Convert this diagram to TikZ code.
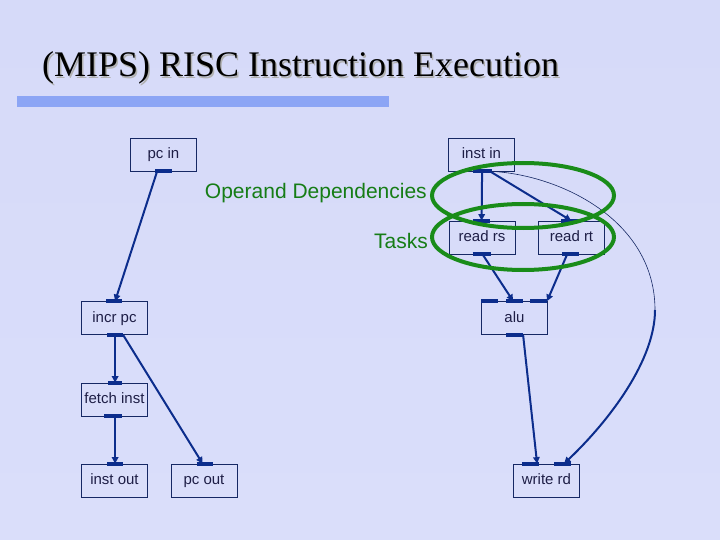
\documentclass[tikz,border=0pt]{standalone}
\usepackage{fontspec}
\setmainfont{Liberation Serif}
\setsansfont{Liberation Sans}
\usetikzlibrary{arrows.meta,calc}
\definecolor{bgtop}{RGB}{214,218,249}
\definecolor{bgmid}{RGB}{250,250,255}
\definecolor{bgbot}{RGB}{218,222,250}
\definecolor{edgecol}{RGB}{12,45,140}
\definecolor{boxcol}{RGB}{22,40,100}
\definecolor{ringcol}{RGB}{25,140,25}
\definecolor{labcol}{RGB}{22,125,22}
\definecolor{barcol}{RGB}{140,165,245}
\definecolor{txtcol}{RGB}{30,30,70}
\newcommand{\myport}[3]{\draw[port] ($(#1)+(#2,0)$) -- ($(#1)+(#3,0)$);}
\begin{document}
\begin{tikzpicture}[x=1pt,y=-1pt,
 box/.style={draw=boxcol,line width=0.8pt,minimum width=66pt,minimum height=33pt,inner sep=0pt,
   text height=11pt,text depth=3pt,
   font=\sffamily\fontsize{15}{15}\selectfont,text=txtcol},
 port/.style={line width=4pt,draw=edgecol},
 edge/.style={line width=2pt,draw=edgecol,-{Triangle[length=6.5pt,width=6.5pt]}},
 thinedge/.style={line width=0.6pt,draw=boxcol},
 ring/.style={draw=ringcol,line width=4pt},
 lab/.style={font=\sffamily\fontsize{21}{21}\selectfont,text=labcol,inner sep=0pt}]
\useasboundingbox (0,0) rectangle (720,540);
\shade[top color=bgtop,middle color=bgmid,bottom color=bgbot] (0,0) rectangle (720,540);
% title with its shadow
\node[anchor=base west,inner sep=0pt,text=black!30,font=\fontsize{36}{36}\selectfont] (titleshadow) at (43.5,78.5) {(MIPS) RISC Instruction Execution};
\node[anchor=base west,inner sep=0pt,text=black,font=\fontsize{36}{36}\selectfont] (title) at (42,77) {(MIPS) RISC Instruction Execution};
\fill[barcol] (17,96) rectangle (389,107);
% boxes
\node[box] (pcin) at (163.5,154.5) {pc in};
\node[box] (instin) at (481.5,154.5) {inst in};
\node[box] (readrs) at (482,237.5) {read rs};
\node[box] (readrt) at (571.5,237.5) {read rt};
\node[box] (alu) at (514.5,318) {alu};
\node[box] (incrpc) at (114.5,318) {incr pc};
\node[box] (fetch) at (114.5,399.5) {fetch inst};
\node[box] (instout) at (114.5,480.5) {inst out};
\node[box] (pcout) at (204,480.5) {pc out};
\node[box] (writerd) at (546.5,480.5) {write rd};
% labels
\node[lab,anchor=base east] (opdep) at (427,199) {Operand Dependencies};
\node[lab,anchor=base east] (tasks) at (428,248) {Tasks};
% connectors
\draw[edge] ($(pcin.south west)+(27,0)$) -- ($(incrpc.north west)+(34,0)$);
\draw[edge] ($(instin.south west)+(34,0)$) -- ($(readrs.north west)+(33,0)$);
\draw[edge] ($(instin.south west)+(42,0)$) -- ($(readrt.north west)+(33,0)$);
\draw[edge] ($(readrs.south west)+(34,0)$) -- ($(alu.north west)+(32,0)$);
\draw[edge] ($(readrt.south west)+(29,0)$) -- ($(alu.north west)+(66,0)$);
\draw[edge] ($(incrpc.south west)+(34,0)$) -- ($(fetch.north west)+(34,0)$);
\draw[edge] ($(incrpc.south west)+(42,0)$) -- ($(pcout.north west)+(32,0)$);
\draw[edge] ($(fetch.south west)+(34,0)$) -- ($(instout.north west)+(34,0)$);
\draw[edge] ($(alu.south west)+(42,0)$) -- ($(writerd.north west)+(24,0)$);
\coordinate (bend) at (655,310);
\draw[thinedge] ($(instin.south west)+(44,0)$) .. controls (560,175) and (655,220) .. (bend);
\draw[edge] (bend) .. controls (655,360) and (610,420) .. ($(writerd.north west)+(51,0)$);
% ports
\myport{pcin.south west}{25}{42}
\myport{instin.south west}{25}{44}
\myport{readrs.north west}{24}{41}
\myport{readrs.south west}{24}{42}
\myport{readrt.north west}{23}{41}
\myport{readrt.south west}{24}{41}
\myport{alu.north west}{0}{17}
\myport{alu.north west}{25}{42}
\myport{alu.north west}{49}{66}
\myport{alu.south west}{25}{42}
\myport{incrpc.north west}{25}{41}
\myport{incrpc.south west}{26}{42}
\myport{fetch.north west}{27}{41}
\myport{fetch.south west}{23}{41}
\myport{instout.north west}{26}{42}
\myport{pcout.north west}{26}{42}
\myport{writerd.north west}{9}{26}
\myport{writerd.north west}{41}{58}
% rings
\draw[ring] (523,195.5) ellipse [x radius=91pt, y radius=32.5pt];
\draw[ring] (523,237) ellipse [x radius=91pt, y radius=33pt];
\end{tikzpicture}
\end{document}
